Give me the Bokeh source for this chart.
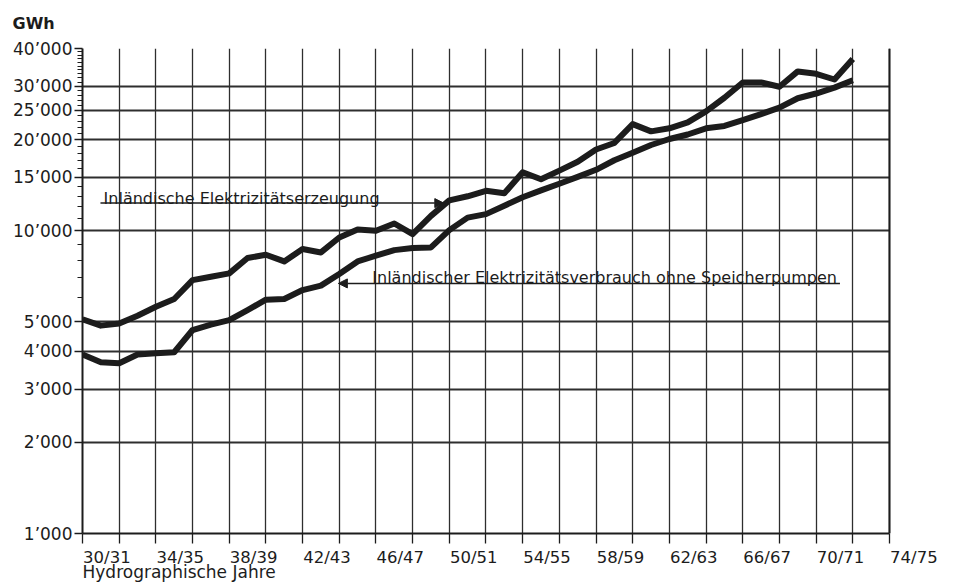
from bokeh.plotting import figure
from bokeh.models import (Range1d, FixedTicker, Label, Arrow, NormalHead, LinearAxis,
                          Title, BoxAnnotation, Span)
from bokeh.embed import file_html
from bokeh.resources import INLINE

# ---------------- data ----------------
years = list(range(1930, 1973))
erzeugung = [5100, 4860, 4940, 5240, 5610, 5950, 6870, 7050, 7230, 8130,
             8330, 7920, 8700, 8480, 9500, 10100, 10000, 10570, 9750, 11200,
             12600, 13000, 13550, 13300, 15600, 14800, 15800, 16900, 18550, 19500,
             22500, 21300, 21800, 22800, 24800, 27500, 30900, 30900, 29900, 33600,
             33000, 31600, 36900]
verbrauch = [3900, 3680, 3650, 3900, 3940, 3970, 4700, 4900, 5070, 5470,
             5920, 5950, 6370, 6590, 7200, 7920, 8270, 8630, 8770, 8810,
             10050, 11050, 11350, 12100, 12900, 13600, 14300, 15070, 15900, 17100,
             18100, 19200, 20100, 20800, 21800, 22200, 23200, 24300, 25500, 27400,
             28400, 29700, 31400]

y_ticks = [1000, 2000, 3000, 4000, 5000, 10000, 15000, 20000, 25000, 30000, 40000]
y_labels = ["1’000", "2’000", "3’000", "4’000", "5’000", "10’000", "15’000",
            "20’000", "25’000", "30’000", "40’000"]
y_minor = [6000, 7000, 8000, 9000,
           11000, 12000, 13000, 14000,
           16000, 17000, 18000, 19000,
           21000, 22000, 23000, 24000,
           26000, 27000, 28000, 29000,
           31000, 32000, 33000, 34000, 35000, 36000, 37000, 38000, 39000]
grid_years = [1930, 1932, 1934, 1936, 1938, 1940, 1942, 1944, 1946, 1948, 1950, 1952,
              1954, 1956, 1958, 1960, 1962, 1964, 1966, 1968, 1970, 1972, 1974]
label_years = [1930, 1934, 1938, 1942, 1946, 1950, 1954, 1958, 1962, 1966, 1970, 1974]
x_labels = ["30/31", "34/35", "38/39", "42/43", "46/47", "50/51", "54/55",
            "58/59", "62/63", "66/67", "70/71", "74/75"]

unit_label = "GWh"
x_title = "Hydrographische Jahre"
label_erz = "Inländische Elektrizitätserzeugung"
label_verb = "Inländischer Elektrizitätsverbrauch ohne Speicherpumpen"

# ---------------- layout / placement ----------------
X_START, X_END_AXIS, X_END_FRAME = 1930, 1974, 1977   # frame runs past the chart so the last label fits
Y_MIN, Y_MAX = 1000, 40000
LABEL_SHIFT = 1.33                                     # year labels are left-aligned at their grid line
erz_text_pos = (1931.15, 12800)
erz_arrow = (1930.98, 12340, 1949.7, 12340)
verb_text_pos = (1945.8, 7000)
verb_arrow = (1971.3, 6700, 1943.95, 6700)

FONT = "DejaVu Sans"
INK = "#1c1c1c"
GRID = "#2e2e2e"

p = figure(width=952, height=583, output_backend="svg", toolbar_location=None,
           x_range=Range1d(X_START, X_END_FRAME), y_range=Range1d(Y_MIN, Y_MAX),
           y_axis_type="log",
           min_border_left=82, min_border_right=8, min_border_top=48,
           min_border_bottom=50)
p.background_fill_color = "white"
p.border_fill_color = "white"
p.outline_line_color = None

# title "GWh" top-left
p.title.text = unit_label
p.title.align = "left"
p.title.offset = -70
p.title.vertical_align = "top"
p.title.standoff = 27
p.title.text_font = FONT
p.title.text_font_size = "16px"
p.title.text_font_style = "bold"
p.title.text_color = INK

# y axis
ya = p.yaxis[0]
ya.ticker = FixedTicker(ticks=y_ticks, minor_ticks=y_minor)
ya.major_label_overrides = {t: l for t, l in zip(y_ticks, y_labels)}
ya.major_tick_out = 8
ya.major_tick_in = 0
ya.minor_tick_out = 5
ya.minor_tick_in = 0
ya.major_tick_line_color = INK
ya.minor_tick_line_color = INK
ya.major_tick_line_width = 1.5
ya.minor_tick_line_width = 1.2
ya.axis_line_color = INK
ya.axis_line_width = 2
ya.major_label_standoff = 2
ya.major_label_text_font = FONT
ya.major_label_text_font_size = "17px"
ya.major_label_text_color = INK

# x axis: tick marks at every grid line
xa = p.xaxis[0]
xa.bounds = (X_START, X_END_AXIS)
xa.ticker = FixedTicker(ticks=grid_years)
xa.major_label_overrides = {t: "" for t in grid_years}
xa.major_label_text_font_size = "1px"
xa.major_label_standoff = 0
xa.major_tick_out = 10
xa.major_tick_in = 0
xa.minor_tick_out = 0
xa.minor_tick_in = 0
xa.major_tick_line_color = INK
xa.major_tick_line_width = 1.3
xa.axis_line_color = INK
xa.axis_line_width = 2

# x axis: year labels (shifted scale so each label starts at its grid line)
p.extra_x_ranges["labels"] = Range1d(X_START - LABEL_SHIFT, X_END_FRAME - LABEL_SHIFT)
xl = LinearAxis(x_range_name="labels", ticker=FixedTicker(ticks=label_years),
                major_label_overrides={t: l for t, l in zip(label_years, x_labels)},
                axis_line_color=None, major_tick_line_color=None,
                minor_tick_line_color=None, major_tick_out=0, major_tick_in=0,
                minor_tick_out=0, minor_tick_in=0, major_label_standoff=4,
                major_label_text_font=FONT, major_label_text_font_size="16.5px",
                major_label_text_color=INK)
p.add_layout(xl, "below")

xt = Title(text=x_title, align="left", offset=0, standoff=0,
           vertical_align="top", text_font=FONT, text_font_size="17px",
           text_font_style="normal", text_color=INK)
try:
    xt.standoff = -16
except Exception:
    xt.standoff = 0
p.add_layout(xt, "below")

# grid
p.xgrid.ticker = FixedTicker(ticks=grid_years)
p.xgrid.grid_line_color = GRID
p.xgrid.grid_line_width = 1.3
p.ygrid.ticker = FixedTicker(ticks=y_ticks)
p.ygrid.grid_line_color = GRID
p.ygrid.grid_line_width = 2
try:
    p.ygrid.cross_bounds = (X_START, X_END_AXIS)
except Exception:
    pass

# mask the frame beyond the chart's right edge, then draw the right border
mask = BoxAnnotation(left=X_END_AXIS + 0.07, right=X_END_FRAME + 3,
                     bottom=Y_MIN * 0.7, top=Y_MAX * 1.4,
                     fill_color="white", fill_alpha=1.0,
                     line_color=None, line_alpha=0, level="overlay")
p.add_layout(mask)
p.add_layout(Span(location=X_END_AXIS, dimension="height", line_color=INK,
                  line_width=2, level="overlay"))

# series
p.line(years, erzeugung, line_width=6, line_color=INK, line_join="round")
p.line(years, verbrauch, line_width=6, line_color=INK, line_join="round")

# annotations
p.add_layout(Label(x=erz_text_pos[0], y=erz_text_pos[1], text=label_erz,
                   text_align="left", text_baseline="alphabetic",
                   text_font=FONT, text_font_size="16px", text_color=INK))
p.add_layout(Arrow(end=NormalHead(size=9, fill_color=INK, line_color=INK, line_width=1),
                   x_start=erz_arrow[0], y_start=erz_arrow[1],
                   x_end=erz_arrow[2], y_end=erz_arrow[3],
                   line_color=INK, line_width=1.5))
p.add_layout(Label(x=verb_text_pos[0], y=verb_text_pos[1], text=label_verb,
                   text_align="left", text_baseline="alphabetic",
                   text_font=FONT, text_font_size="16px", text_color=INK))
p.add_layout(Arrow(end=NormalHead(size=9, fill_color=INK, line_color=INK, line_width=1),
                   x_start=verb_arrow[0], y_start=verb_arrow[1],
                   x_end=verb_arrow[2], y_end=verb_arrow[3],
                   line_color=INK, line_width=1.5))

open("out.html", "w").write(file_html(p, INLINE))
